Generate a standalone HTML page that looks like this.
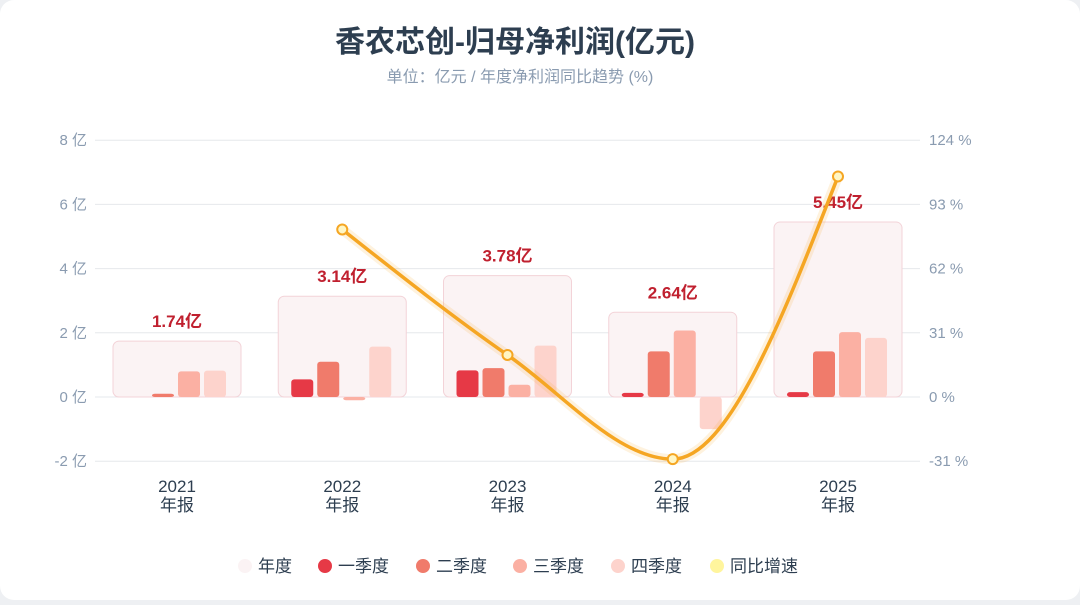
<!DOCTYPE html>
<html><head><meta charset="utf-8"><style>
body{margin:0;background:#eef0f3;font-family:"Liberation Sans","Noto Sans CJK SC",sans-serif}
#card{position:absolute;left:0;top:0;width:1080px;height:600px;background:#fff;border-radius:14px}
</style></head><body>
<div id="card">
<svg id="chart" width="1080" height="600"></svg>
</div>
<script>
const categories=["2021","2022","2023","2024","2025"];
const annual=[1.74,3.14,3.78,2.64,5.45];
const q1=[0,0.55,0.83,0.13,0.15];
const q2=[0.1,1.1,0.9,1.42,1.42];
const q3=[0.8,-0.1,0.38,2.07,2.02];
const q4=[0.82,1.57,1.6,-1.0,1.84];
const yoy=[null,80.9,20.3,-30,106.5];
const leftTicks=[8,6,4,2,0,-2];
const rightTicks=[124,93,62,31,0,-31];

const NS="http://www.w3.org/2000/svg";
const svg=document.getElementById('chart');
const F='"Liberation Sans","Noto Sans CJK SC",sans-serif';
function el(t,a,p){const e=document.createElementNS(NS,t);for(const k in a)e.setAttribute(k,a[k]);(p||svg).appendChild(e);return e;}
const y0=397,pxPer=32.1;
function yL(v){return y0-v*pxPer;}
function yR(v){return y0-v*(64.2/31);}
function xC(i){return 177+i*165.25;}

let t=el('text',{x:515,y:52,'text-anchor':'middle','font-size':30,'font-weight':'bold',fill:'#2d3e50','font-family':F});
t.textContent='香农芯创-归母净利润(亿元)';

t=el('text',{x:520,y:82,'text-anchor':'middle','font-size':16,fill:'#8a9bb0','font-family':F});
t.textContent='单位：亿元 / 年度净利润同比趋势 (%)';


leftTicks.forEach((v,i)=>{
 const y=yL(v);
 const g=el('line',{x1:95,x2:920,y1:y,y2:y,stroke:'#e6e8ec','stroke-width':1});
 
 const a=el('text',{x:87,y:y+5,'text-anchor':'end','font-size':15,fill:'#8a9bb0','font-family':F});
 a.textContent=v+' 亿';
 
 const b=el('text',{x:929,y:y+5,'font-size':15,fill:'#8a9bb0','font-family':F});
 b.textContent=rightTicks[i]+' %';
 
});

const qs=[q1,q2,q3,q4],qc=['#e63946','#f07b6b','#fbb0a3','#fdd3cc'],qo=[-51,-25,1,27];
categories.forEach((c,i)=>{
 const cx=xC(i);
 const r=el('rect',{x:cx-64,y:yL(annual[i]),width:128,height:yL(0)-yL(annual[i]),rx:6,fill:'#fbf3f4',stroke:'#f3d3d8','stroke-width':1});
 
 const lb=el('text',{x:cx,y:yL(annual[i])-14,'text-anchor':'middle','font-size':17,'font-weight':'bold',fill:'#c0202f','font-family':F});
 lb.textContent=annual[i].toFixed(2)+'亿';
 
 qs.forEach((arr,k)=>{
  const v=arr[i]; if(v===0)return;
  const top=Math.min(yL(v),yL(0)),h=Math.abs(yL(v)-yL(0));
  const b=el('rect',{x:cx+qo[k],y:top,width:22,height:h,rx:3,fill:qc[k]});
  
 });
 const x1=el('text',{x:cx,y:492,'text-anchor':'middle','font-size':17,fill:'#2d3e50','font-family':F});
 x1.textContent=c;
 const x2=el('text',{x:cx,y:511,'text-anchor':'middle','font-size':17,fill:'#2d3e50','font-family':F});
 x2.textContent='年报';
});

// monotone X line
const pts=[];yoy.forEach((v,i)=>{if(v!==null)pts.push([xC(i),yR(v)]);});
const n=pts.length,dx=[],sl=[],m=[];
for(let i=0;i<n-1;i++){dx[i]=pts[i+1][0]-pts[i][0];sl[i]=(pts[i+1][1]-pts[i][1])/dx[i];}
for(let i=0;i<n;i++){
 if(i===0)m[i]=sl[0];else if(i===n-1)m[i]=sl[n-2];
 else if(sl[i-1]*sl[i]<=0)m[i]=0;
 else{const h0=dx[i-1],h1=dx[i];const p=(sl[i-1]*h1+sl[i]*h0)/(h0+h1);
  m[i]=(Math.sign(sl[i-1])+Math.sign(sl[i]))*Math.min(Math.abs(sl[i-1]),Math.abs(sl[i]),0.5*Math.abs(p));}
}
// endpoints like d3: one-sided
if(n>1){m[0]=(3*sl[0]-m[1])/2;m[n-1]=(3*sl[n-2]-m[n-2])/2;}
let d='M'+pts[0][0]+','+pts[0][1];
for(let i=0;i<n-1;i++){
 const h=dx[i]/3;
 d+=' C'+(pts[i][0]+h)+','+(pts[i][1]+m[i]*h)+' '+(pts[i+1][0]-h)+','+(pts[i+1][1]-m[i+1]*h)+' '+pts[i+1][0]+','+pts[i+1][1];
}
const glow=el('path',{d:d,fill:'none',stroke:'#f5a623','stroke-width':10,'stroke-opacity':0.15});

const ln=el('path',{d:d,fill:'none',stroke:'#f5a623','stroke-width':3.5});

pts.forEach(p=>{
 const c=el('circle',{cx:p[0],cy:p[1],r:5,fill:'#fff6c4',stroke:'#f5a623','stroke-width':2});
 
});

// legend
const leg=[['年度','#fbf3f4'],['一季度','#e63946'],['二季度','#f07b6b'],['三季度','#fbb0a3'],['四季度','#fdd3cc'],['同比增速','#fff59d']];
const lx=[245,325,423,520,618,717];
leg.forEach((l,i)=>{
 const c=el('circle',{cx:lx[i],cy:566,r:7,fill:l[1]});
 
 const tx=el('text',{x:lx[i]+13,y:572,'font-size':17,fill:'#2d3e50','font-family':F});
 tx.textContent=l[0];
});
</script>
</body></html>
